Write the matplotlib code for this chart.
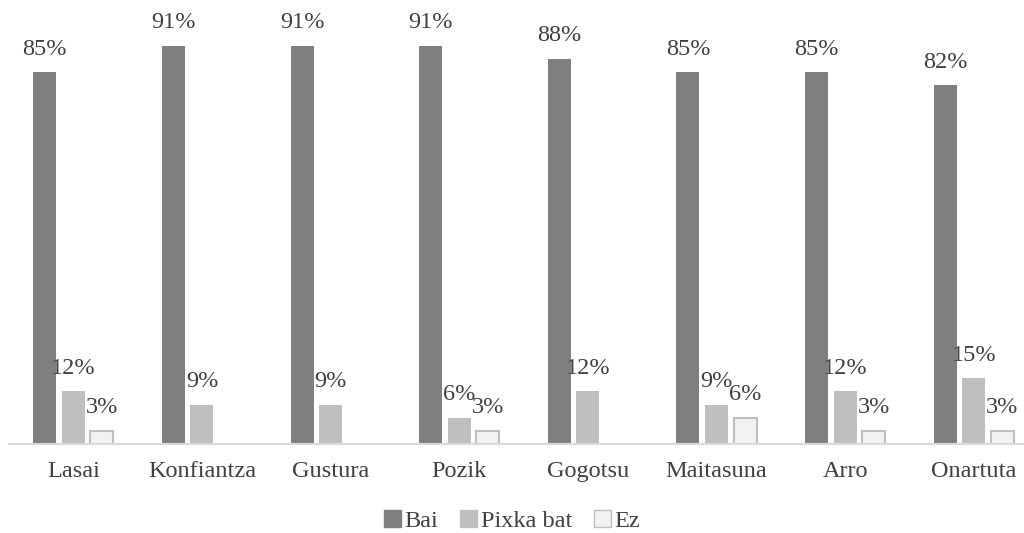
import numpy as np
import matplotlib
matplotlib.use("Agg")
import matplotlib.pyplot as plt
from matplotlib.patches import Patch

categories = ["Lasai", "Konfiantza", "Gustura", "Pozik", "Gogotsu",
              "Maitasuna", "Arro", "Onartuta"]
bai = [85, 91, 91, 91, 88, 85, 85, 82]
pixka_bat = [12, 9, 9, 6, 12, 9, 12, 15]
ez = [3, None, None, 3, None, 6, 3, 3]
series_names = ["Bai", "Pixka bat", "Ez"]

plt.rcParams["font.family"] = ["Liberation Serif", "DejaVu Serif"]

fig = plt.figure(figsize=(10.24, 5.33), dpi=100)
ax = fig.add_axes([0.0088, 0.167, 1.005, 0.821])

x = np.arange(len(categories))
slot = 0.222
width = 0.179
faces = ["#7f7f7f", "#bfbfbf", "#f2f2f2"]
edges = ["#7f7f7f", "#bfbfbf", "#bfbfbf"]
fs = 17.5

for k, vals in enumerate([bai, pixka_bat, ez]):
    xs = [xi + (k - 1) * slot for xi, v in zip(x, vals) if v is not None]
    vs = [v for v in vals if v is not None]
    bars = ax.bar(xs, vs, width, color=faces[k], edgecolor=edges[k],
                  linewidth=1.5 if k == 2 else 0, label=series_names[k])
    for b, v in zip(bars, vs):
        ax.annotate(f"{v}%", (b.get_x() + b.get_width() / 2, v),
                    xytext=(0, 9), textcoords="offset points",
                    ha="center", va="bottom", fontsize=fs, color="#404040")

ax.set_xlim(-0.5, len(categories) - 0.5)
ax.set_ylim(0, 100)
ax.set_xticks(x)
ax.set_xticklabels(categories, fontsize=fs, color="#404040")
ax.tick_params(axis="x", length=0, pad=12)
ax.set_yticks([])
for side in ["top", "left", "right"]:
    ax.spines[side].set_visible(False)
ax.spines["bottom"].set_color("#d9d9d9")
ax.spines["bottom"].set_linewidth(1.5)

handles = [Patch(facecolor=faces[i], edgecolor=edges[i], linewidth=1)
           for i in range(3)]
fig.legend(handles, series_names, loc="center", bbox_to_anchor=(0.5, 0.022),
           ncol=3, frameon=False, fontsize=fs, handlelength=0.7,
           handleheight=0.7, handletextpad=0.15, columnspacing=0.9,
           labelcolor="#404040")

fig.savefig("out.png", dpi=100)
